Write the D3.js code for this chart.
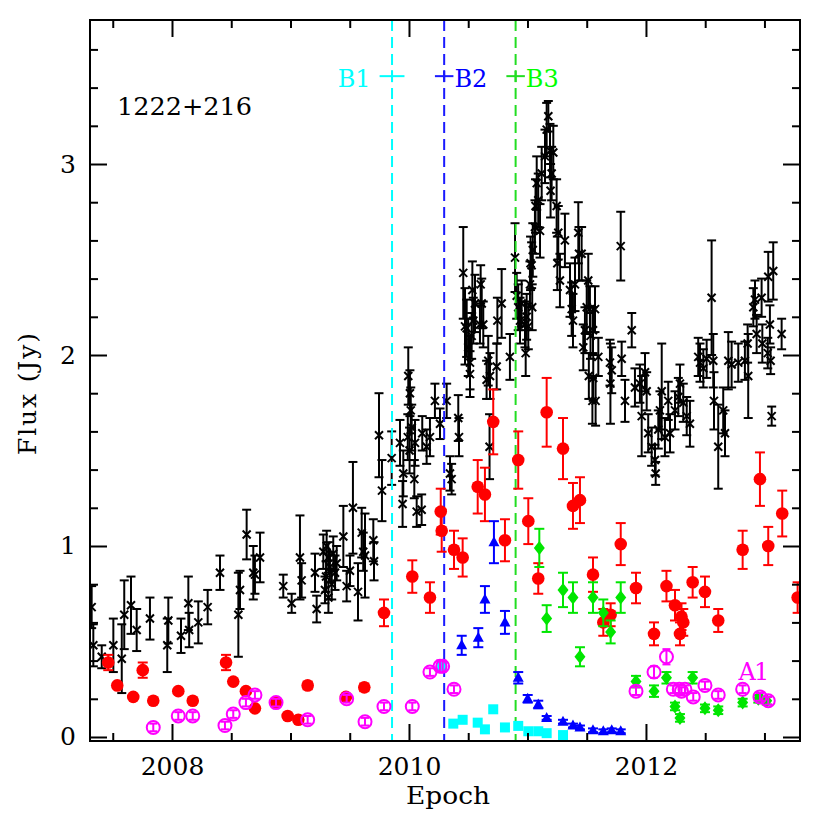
<!DOCTYPE html>
<html><head><meta charset="utf-8">
<script src="https://cdn.jsdelivr.net/npm/d3@7"></script>
<style>
html,body{margin:0;padding:0;background:#fff;}
svg{display:block;}
text{font-family:"DejaVu Serif",serif;}
</style></head>
<body>
<svg id="chart" width="830" height="830"></svg>
<script>
// ---- data: [epoch, flux (Jy), error] ----
const fluxBlack = [
[2007.322,0.68,0.11],[2007.336,0.48,0.11],[2007.407,0.42,0.06],[2007.505,0.48,0.14],[2007.576,0.41,0.18],
[2007.597,0.64,0.18],[2007.654,0.69,0.15],[2007.702,0.56,0.11],[2007.814,0.62,0.11],[2007.969,0.61,0.12],
[2007.960,0.48,0.14],[2008.076,0.53,0.09],[2008.138,0.70,0.14],[2008.145,0.56,0.09],[2008.222,0.60,0.11],
[2008.301,0.68,0.09],[2008.405,0.86,0.09],[2008.560,0.64,0.22],[2008.574,0.77,0.10],[2008.630,1.06,0.13],
[2008.686,0.86,0.14],[2008.700,0.85,0.10],[2008.743,0.94,0.13],[2008.939,0.79,0.06],[2009.010,0.70,0.05],
[2009.080,0.94,0.22],[2009.094,0.82,0.09],[2009.207,0.86,0.10],[2009.221,0.67,0.07],[2009.277,0.97,0.09],
[2009.305,1.00,0.08],[2009.319,0.94,0.08],[2009.333,0.89,0.08],[2009.300,0.84,0.08],[2009.320,0.73,0.08],
[2009.291,0.77,0.07],[2009.361,0.96,0.09],[2009.376,0.86,0.09],[2009.390,0.91,0.09],[2009.348,0.80,0.08],
[2009.446,1.05,0.16],[2009.474,0.79,0.08],[2009.502,0.87,0.08],[2009.527,1.20,0.24],[2009.570,0.76,0.15],
[2009.601,1.07,0.13],[2009.614,0.97,0.10],[2009.629,0.95,0.22],[2009.699,1.03,0.11],[2009.705,0.92,0.10],
[2009.747,1.58,0.22],[2009.772,1.29,0.16],[2009.854,1.46,0.14],[2009.924,1.54,0.12],[2009.952,1.38,0.12],
[2009.946,1.22,0.12],[2009.994,1.89,0.15],[2010.008,1.80,0.12],[2010.015,1.71,0.12],[2010.023,1.62,0.12],
[2009.990,1.57,0.12],[2010.005,1.50,0.12],[2010.051,1.54,0.12],[2010.045,1.35,0.10],[2010.065,1.18,0.08],
[2010.107,1.19,0.08],[2010.112,1.59,0.09],[2010.149,1.52,0.09],[2010.177,1.57,0.10],[2010.219,1.76,0.09],
[2010.262,1.64,0.08],[2010.318,1.76,0.09],[2010.346,1.38,0.09],[2010.360,1.35,0.08],[2010.416,1.67,0.12],
[2010.422,1.57,0.10],[2010.458,2.43,0.24],[2010.473,2.15,0.20],[2010.487,2.14,0.15],[2010.500,2.04,0.15],
[2010.515,1.96,0.14],[2010.529,2.10,0.12],[2010.535,2.34,0.15],[2010.543,2.18,0.12],[2010.557,2.27,0.15],
[2010.515,1.90,0.12],[2010.599,2.16,0.10],[2010.605,2.37,0.10],[2010.614,2.27,0.13],[2010.627,2.16,0.12],
[2010.655,1.87,0.10],[2010.669,1.97,0.13],[2010.684,1.89,0.12],[2010.680,1.52,0.17],[2010.740,1.94,0.12],
[2010.746,2.18,0.12],[2010.782,2.27,0.18],[2010.852,1.99,0.12],[2010.895,2.51,0.18],[2010.909,2.31,0.12],
[2010.922,2.25,0.12],[2010.937,2.18,0.12],[2010.951,2.27,0.12],[2010.979,2.16,0.12],[2010.985,2.01,0.12],
[2010.993,2.20,0.12],[2011.007,2.15,0.12],[2011.021,2.37,0.12],[2011.026,2.48,0.14],[2011.035,2.47,0.12],
[2011.040,2.25,0.12],[2011.045,2.55,0.14],[2011.063,2.67,0.14],[2011.068,2.78,0.14],[2011.078,2.90,0.14],
[2011.091,2.81,0.14],[2011.106,2.65,0.14],[2011.120,2.95,0.14],[2011.148,3.04,0.14],[2011.162,3.18,0.14],
[2011.176,3.25,0.08],[2011.190,3.07,0.14],[2011.204,2.95,0.14],[2011.195,2.86,0.14],[2011.218,3.06,0.14],
[2011.246,2.78,0.14],[2011.260,2.64,0.14],[2011.252,2.48,0.14],[2011.274,2.39,0.14],[2011.316,2.60,0.14],
[2011.359,2.34,0.14],[2011.373,2.24,0.14],[2011.384,2.18,0.14],[2011.429,2.64,0.16],[2011.435,2.53,0.14],
[2011.401,2.37,0.14],[2011.457,2.53,0.14],[2011.513,2.39,0.14],[2011.500,2.25,0.14],[2011.485,2.13,0.12],
[2011.471,2.04,0.12],[2011.527,2.24,0.12],[2011.553,2.13,0.12],[2011.570,2.24,0.12],[2011.518,1.89,0.12],
[2011.548,1.76,0.12],[2011.532,2.10,0.12],[2011.555,1.88,0.12],[2011.575,1.76,0.13],[2011.598,1.99,0.10],
[2011.696,1.96,0.12],[2011.700,1.85,0.21],[2011.711,1.92,0.12],[2011.795,1.98,0.09],[2011.787,2.57,0.18],
[2011.880,2.13,0.09],[2011.823,1.76,0.11],[2011.907,1.83,0.10],[2011.949,1.85,0.10],[2011.964,1.68,0.21],
[2011.992,1.91,0.10],[2012.006,1.81,0.10],[2012.019,1.59,0.10],[2012.048,1.52,0.10],[2012.076,1.45,0.08],
[2012.082,1.38,0.06],[2012.104,1.61,0.10],[2012.133,1.81,0.25],[2012.118,1.71,0.10],[2012.160,1.57,0.10],
[2012.188,1.76,0.10],[2012.203,1.59,0.10],[2012.245,1.71,0.10],[2012.287,1.85,0.10],[2012.273,1.78,0.10],
[2012.315,1.75,0.10],[2012.344,1.68,0.10],[2012.371,1.64,0.12],[2012.441,1.99,0.10],[2012.456,1.96,0.10],
[2012.484,1.93,0.10],[2012.512,1.98,0.10],[2012.554,2.30,0.30],[2012.568,1.97,0.14],[2012.574,1.76,0.15],
[2012.610,1.52,0.22],[2012.652,1.71,0.12],[2012.667,1.59,0.12],[2012.695,1.97,0.15],[2012.723,1.95,0.12],
[2012.779,1.96,0.10],[2012.835,1.97,0.10],[2012.863,1.89,0.22],[2012.858,2.06,0.10],[2012.906,2.25,0.10],
[2012.920,2.29,0.10],[2012.976,2.30,0.10],[2012.934,2.11,0.10],[2012.982,2.06,0.10],[2013.032,2.41,0.13],
[2013.074,2.44,0.15],[2013.046,2.16,0.10],[2013.028,2.01,0.08],[2013.052,1.97,0.07],[2013.061,1.68,0.05],
[2013.145,2.11,0.08]
];
const fluxRed = [
[2007.462,0.39,0.04],[2007.538,0.27,0.01],[2007.673,0.21,0.01],[2007.753,0.35,0.04],[2007.842,0.19,0.01],
[2008.053,0.24,0.01],[2008.175,0.19,0.01],[2008.456,0.39,0.04],[2008.517,0.29,0.01],[2008.624,0.24,0.01],
[2008.700,0.15,0.01],[2008.878,0.18,0.01],[2008.976,0.11,0.01],[2009.066,0.09,0.01],[2009.145,0.27,0.02],
[2009.468,0.21,0.01],[2009.623,0.26,0.02],[2009.789,0.65,0.07],[2010.028,0.84,0.085],[2010.177,0.73,0.08],
[2010.268,1.18,0.12],[2010.276,1.08,0.11],[2010.380,0.98,0.10],[2010.453,0.94,0.10],[2010.580,1.31,0.14],
[2010.641,1.27,0.14],[2010.711,1.65,0.17],[2010.810,1.03,0.11],[2010.922,1.45,0.15],[2011.007,1.13,0.12],
[2011.091,0.83,0.08],[2011.162,1.70,0.18],[2011.300,1.51,0.16],[2011.384,1.21,0.12],[2011.443,1.24,0.12],
[2011.553,0.85,0.09],[2011.640,0.60,0.07],[2011.702,0.64,0.06],[2011.787,1.01,0.11],[2011.916,0.78,0.08],
[2012.068,0.54,0.06],[2012.173,0.79,0.08],[2012.245,0.69,0.08],[2012.300,0.63,0.07],[2012.315,0.60,0.07],
[2012.287,0.54,0.06],[2012.394,0.81,0.08],[2012.498,0.76,0.08],[2012.610,0.61,0.06],[2012.816,0.98,0.10],
[2012.962,1.35,0.14],[2013.032,1.00,0.10],[2013.150,1.17,0.12],[2013.280,0.73,0.08]
];
const fluxGreen = [
[2011.100,0.99,0.10],[2011.162,0.62,0.07],[2011.300,0.77,0.09],[2011.384,0.73,0.08],[2011.443,0.42,0.05],
[2011.553,0.73,0.08],[2011.640,0.65,0.07],[2011.702,0.55,0.06],[2011.787,0.73,0.08],[2011.916,0.29,0.03],
[2012.068,0.24,0.03],[2012.173,0.31,0.03],[2012.245,0.16,0.02],[2012.287,0.10,0.02],[2012.394,0.31,0.03],
[2012.498,0.15,0.02],[2012.610,0.14,0.02],[2012.816,0.18,0.02],[2012.948,0.20,0.02],[2013.019,0.19,0.02]
];
const fluxBlue = [
[2010.445,0.48,0.05],[2010.585,0.52,0.05],[2010.641,0.72,0.07],[2010.717,1.02,0.11],[2010.810,0.60,0.06],
[2010.922,0.31,0.03],[2011.002,0.20,0.02],[2011.091,0.17,0.02],[2011.162,0.10,0.01],[2011.300,0.08,0.01],
[2011.384,0.06,0.01],[2011.443,0.05,0.01],[2011.553,0.035,0.01],[2011.640,0.03,0.01],[2011.711,0.035,0.01],
[2011.787,0.03,0.01]
];
const fluxCyan = [
[2010.280,0.37],[2010.374,0.07],[2010.453,0.09],[2010.580,0.075],[2010.641,0.04],[2010.711,0.145],
[2010.810,0.05],[2010.922,0.058],[2011.007,0.03],[2011.091,0.03],[2011.162,0.02],[2011.300,0.01]
];
const fluxMagenta = [
[2007.842,0.05,0.02],[2008.053,0.11,0.02],[2008.175,0.11,0.02],[2008.447,0.06,0.02],[2008.517,0.12,0.02],
[2008.624,0.18,0.02],[2008.700,0.22,0.02],[2008.878,0.18,0.02],[2009.145,0.09,0.02],[2009.474,0.20,0.02],
[2009.629,0.08,0.02],[2009.789,0.16,0.02],[2010.028,0.16,0.02],[2010.177,0.34,0.02],[2010.262,0.37,0.03],
[2010.284,0.37,0.03],[2010.380,0.25,0.02],[2011.916,0.24,0.02],[2012.068,0.34,0.03],[2012.173,0.42,0.04],
[2012.231,0.25,0.02],[2012.281,0.25,0.02],[2012.300,0.24,0.02],[2012.329,0.25,0.02],[2012.399,0.21,0.02],
[2012.498,0.27,0.02],[2012.610,0.22,0.02],[2012.816,0.25,0.02],[2012.962,0.21,0.02],[2013.032,0.19,0.02]
];
// event markers: name, epoch, epoch uncertainty, flux level of label
const eventNames = ["B1","B2","B3"];
const eventEpochs = [2009.857, 2010.297, 2010.900];
const eventErrs = [0.105, 0.078, 0.078];
const eventLevel = 3.46;
const xMajorTicks = [2008, 2010, 2012];
const xMinorTicks = [2007.5, 2008.5, 2009, 2009.5, 2010.5, 2011, 2011.5, 2012.5, 2013];
const yMajorTicks = [0, 1, 2, 3];
const yMinorTicks = [0.2,0.4,0.6,0.8,1.2,1.4,1.6,1.8,2.2,2.4,2.6,2.8,3.2,3.4,3.6];
const sourceName = "1222+216";
const componentLabel = {text: "A1", t: 2012.78, v: 0.30};

// ---- layout ----
const L = 90, R = 800, T = 20, B = 741;
const svg = d3.select("#chart");
const x = d3.scaleLinear().domain([2007.308, 2013.30]).range([L, R]);
const y = d3.scaleLinear().domain([-0.021, 3.754]).range([B, T]);

const COL = {black:"#000", red:"#ff0000", green:"#00e600", blue:"#0000ff", cyan:"#00ffff", magenta:"#ff00ff"};
const eventColors = ["#00ffff", "#1a1aff", "#22dd22"];
const eventTextColors = ["#00ffff", "#0000ff", "#00ff00"];

const clip = svg.append("defs").append("clipPath").attr("id","clip")
  .append("rect").attr("x",L).attr("y",T).attr("width",R-L).attr("height",B-T);
const plot = svg.append("g").attr("clip-path","url(#clip)");

function errorBars(g, data, color, cap, width) {
  const eb = g.append("g").attr("stroke", color).attr("stroke-width", width).attr("fill","none");
  data.forEach(d => {
    const cx = x(d[0]), y1 = y(d[1]-d[2]), y2 = y(d[1]+d[2]);
    eb.append("line").attr("x1",cx).attr("x2",cx).attr("y1",y1).attr("y2",y2);
    eb.append("line").attr("x1",cx-cap).attr("x2",cx+cap).attr("y1",y1).attr("y2",y1);
    eb.append("line").attr("x1",cx-cap).attr("x2",cx+cap).attr("y1",y2).attr("y2",y2);
  });
}

// black series
errorBars(plot, fluxBlack, COL.black, 4.5, 2);
plot.append("g").selectAll("path").data(fluxBlack).join("path")
  .attr("d","M-4,-4L4,4M-4,4L4,-4")
  .attr("transform", d => `translate(${x(d[0])},${y(d[1])})`)
  .attr("stroke", COL.black).attr("stroke-width", 2).attr("fill","none");

// event dashed lines
eventEpochs.forEach((t,i) => {
  plot.append("line").attr("x1",x(t)).attr("x2",x(t)).attr("y1",T).attr("y2",B)
    .attr("stroke", eventColors[i]).attr("stroke-width",2).attr("stroke-dasharray","11,6");
});

// red
errorBars(plot, fluxRed, COL.red, 5, 2);
plot.append("g").selectAll("circle").data(fluxRed).join("circle")
  .attr("cx", d => x(d[0])).attr("cy", d => y(d[1])).attr("r", 6.3).attr("fill", COL.red);

// green
errorBars(plot, fluxGreen, COL.green, 5, 2);
plot.append("g").selectAll("path").data(fluxGreen).join("path")
  .attr("d","M0,-7L5.5,0L0,7L-5.5,0Z")
  .attr("transform", d => `translate(${x(d[0])},${y(d[1])})`)
  .attr("fill", COL.green);

// blue
errorBars(plot, fluxBlue, COL.blue, 5, 2);
plot.append("g").selectAll("path").data(fluxBlue).join("path")
  .attr("d","M0,-6L5.5,4L-5.5,4Z")
  .attr("transform", d => `translate(${x(d[0])},${y(d[1])})`)
  .attr("fill", COL.blue);

// cyan
plot.append("g").selectAll("rect").data(fluxCyan).join("rect")
  .attr("x", d => x(d[0])-5).attr("y", d => y(d[1])-5).attr("width",10).attr("height",10)
  .attr("fill", COL.cyan);

// magenta
errorBars(plot, fluxMagenta, COL.magenta, 4, 2);
plot.append("g").selectAll("circle").data(fluxMagenta).join("circle")
  .attr("cx", d => x(d[0])).attr("cy", d => y(d[1])).attr("r", 6.5)
  .attr("fill","none").attr("stroke", COL.magenta).attr("stroke-width", 2);

// event labels
eventEpochs.forEach((t,i) => {
  const cx = x(t), cy = y(eventLevel);
  const g = svg.append("g").attr("stroke", eventColors[i]).attr("stroke-width",2);
  g.append("line").attr("x1",x(t-eventErrs[i])).attr("x2",x(t+eventErrs[i])).attr("y1",cy).attr("y2",cy);
  g.append("line").attr("x1",cx).attr("x2",cx).attr("y1",cy-6).attr("y2",cy+6);
  const txt = svg.append("text").attr("y", cy+11).attr("font-size",24)
    .attr("fill", eventTextColors[i]).text(eventNames[i]);
  if (i === 0) txt.attr("x", x(t-eventErrs[i])-9).attr("text-anchor","end");
  else txt.attr("x", x(t+eventErrs[i])+1).attr("text-anchor","start");
});

// A1 label
svg.append("text").attr("x", x(componentLabel.t)).attr("y", y(componentLabel.v))
  .attr("font-size",24).attr("fill", COL.magenta).attr("textLength",31).attr("lengthAdjust","spacing")
  .text(componentLabel.text);

// source name
svg.append("text").attr("x",117).attr("y",115).attr("font-size",25)
  .attr("textLength",135).attr("lengthAdjust","spacingAndGlyphs").text(sourceName);

// ---- axes ----
function styleAxis(g){ g.select(".domain").remove(); g.selectAll("line").attr("stroke","#000").attr("stroke-width",2); }
svg.append("g").attr("transform",`translate(0,${B})`)
  .call(d3.axisBottom(x).tickValues(xMajorTicks).tickSize(-17).tickPadding(16).tickFormat(d3.format("d")))
  .call(styleAxis).call(g => g.selectAll("text").attr("font-size",25).attr("fill","#000").attr("font-family","DejaVu Serif"));
svg.append("g").attr("transform",`translate(0,${B})`)
  .call(d3.axisBottom(x).tickValues(xMinorTicks).tickSize(-8).tickFormat("")).call(styleAxis);
svg.append("g").attr("transform",`translate(0,${T})`)
  .call(d3.axisTop(x).tickValues(xMajorTicks).tickSize(-17).tickFormat("")).call(styleAxis);
svg.append("g").attr("transform",`translate(0,${T})`)
  .call(d3.axisTop(x).tickValues(xMinorTicks).tickSize(-8).tickFormat("")).call(styleAxis);
svg.append("g").attr("transform",`translate(${L},0)`)
  .call(d3.axisLeft(y).tickValues(yMajorTicks).tickSize(-17).tickPadding(14).tickFormat(d3.format("d")))
  .call(styleAxis).call(g => g.selectAll("text").attr("font-size",25).attr("fill","#000").attr("font-family","DejaVu Serif"));
svg.append("g").attr("transform",`translate(${L},0)`)
  .call(d3.axisLeft(y).tickValues(yMinorTicks).tickSize(-8).tickFormat("")).call(styleAxis);
svg.append("g").attr("transform",`translate(${R},0)`)
  .call(d3.axisRight(y).tickValues(yMajorTicks).tickSize(-17).tickFormat("")).call(styleAxis);
svg.append("g").attr("transform",`translate(${R},0)`)
  .call(d3.axisRight(y).tickValues(yMinorTicks).tickSize(-8).tickFormat("")).call(styleAxis);

svg.append("rect").attr("x",L).attr("y",T).attr("width",R-L).attr("height",B-T)
  .attr("fill","none").attr("stroke","#000").attr("stroke-width",2);

// axis titles
svg.append("text").attr("x",(L+R)/2+3).attr("y",804).attr("text-anchor","middle").attr("font-size",25)
  .attr("textLength",84).attr("lengthAdjust","spacingAndGlyphs").text("Epoch");
svg.append("text").attr("transform","translate(36,394) rotate(-90)").attr("text-anchor","middle")
  .attr("font-size",25).attr("textLength",122).attr("lengthAdjust","spacing").text("Flux (Jy)");
</script>
</body></html>
